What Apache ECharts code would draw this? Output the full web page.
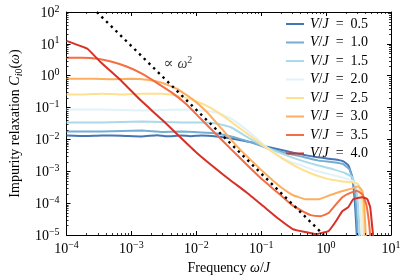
<!DOCTYPE html>
<html><head><meta charset="utf-8">
<script src="https://cdn.jsdelivr.net/npm/echarts@6/dist/echarts.min.js"></script>
<style>html,body{margin:0;padding:0;background:#fff}#c{width:415px;height:280px}</style>
</head><body><div id="c"></div>
<script>
// ---------- data ----------
const vjLabels = ['0.5', '1.0', '1.5', '2.0', '2.5', '3.0', '3.5', '4.0'];
const vjColors = ['#4575b4', '#74add1', '#abd9e9', '#e0f3f8', '#fee090', '#fdae61', '#f46d43', '#d73027'];

const xTickExponents = [-4, -3, -2, -1, 0, 1];
const yTickExponents = [-5, -4, -3, -2, -1, 0, 1, 2];

// [omega/J, C_i0(omega)]
const vj05 = [[1e-4,0.0133],[2.0e-4,0.0128],[3.5e-4,0.0133],[7.0e-4,0.0130],[1.45e-3,0.0124],[2.5e-3,0.0135],[3.5e-3,0.0125],[5.9e-3,0.0133],[8.0e-3,0.0126],[1.2e-2,0.0133],[2.04e-2,0.0124],[3.45e-2,0.0107],[7.0e-2,0.0081],[0.118,0.006],[0.223,0.0045],[0.406,0.0034],[0.74,0.00274],[1.30,0.00237],[1.85,0.00205],[2.20,0.00154],[2.54,0.00065],[2.82,6.5e-5],[3.02,5e-6]];
const vj10 = [[1e-4,0.0178],[3.5e-4,0.0178],[1.45e-3,0.0191],[3.0e-3,0.0172],[5.9e-3,0.0178],[1.2e-2,0.0166],[2.04e-2,0.0154],[3.45e-2,0.0124],[7.0e-2,0.0081],[0.118,0.0056],[0.223,0.0039],[0.406,0.00294],[0.74,0.0022],[1.30,0.00191],[1.85,0.00166],[2.28,0.00115],[2.72,3.9e-4],[2.92,6.5e-5],[3.13,5e-6]];
const vj15 = [[1e-4,0.034],[3.5e-4,0.034],[1.45e-3,0.0365],[5.9e-3,0.034],[1.2e-2,0.034],[2.04e-2,0.0316],[3.45e-2,0.0237],[7.0e-2,0.01],[0.118,0.0056],[0.223,0.0034],[0.406,0.0022],[0.74,0.00154],[1.30,0.00115],[1.98,8.7e-4],[2.54,6.5e-4],[2.92,2.7e-4],[3.13,6.5e-5],[3.36,5e-6]];
const vj20 = [[1e-4,0.0865],[3.5e-4,0.0865],[1.45e-3,0.0806],[5.9e-3,0.0865],[1.2e-2,0.0806],[2.04e-2,0.0698],[3.45e-2,0.0453],[7.0e-2,0.0154],[0.118,0.006],[0.223,0.00237],[0.406,0.00154],[0.74,0.001],[1.30,7.5e-4],[1.98,6.0e-4],[2.62,4.9e-4],[3.13,2.7e-4],[3.36,9.3e-5],[3.61,5e-6]];
const vj25 = [[1e-4,0.255],[1.76e-4,0.255],[3.5e-4,0.274],[7.2e-4,0.255],[1.45e-3,0.274],[2.94e-3,0.274],[5.0e-3,0.237],[8.5e-3,0.178],[1.43e-2,0.115],[2.43e-2,0.060],[4.1e-2,0.0274],[7.0e-2,0.0124],[0.118,0.0056],[0.20,0.00274],[0.34,0.00143],[0.577,8.7e-4],[0.98,6.0e-4],[1.66,4.9e-4],[2.54,4.5e-4],[3.13,3.9e-4],[3.48,1.9e-4],[3.73,4.5e-5],[3.86,5e-6]];
const vj30 = [[1e-4,0.805],[2.5e-4,0.805],[5.0e-4,0.78],[1.02e-3,0.805],[1.73e-3,0.75],[2.94e-3,0.60],[5.0e-3,0.39],[8.5e-3,0.191],[1.43e-2,0.075],[2.43e-2,0.0221],[4.1e-2,0.0065],[7.0e-2,0.0022],[0.118,8.1e-4],[0.20,3.2e-4],[0.306,1.8e-4],[0.484,1.33e-4],[0.766,1.33e-4],[1.17,1.8e-4],[1.78,2.4e-4],[2.54,2.9e-4],[3.13,3.4e-4],[3.61,2.4e-4],[3.86,9.3e-5],[4.15,5e-6]];
const vj35 = [[1e-4,3.66],[1.76e-4,3.66],[3.0e-4,3.4],[5.0e-4,2.74],[8.6e-4,1.91],[1.45e-3,1.16],[2.46e-3,0.60],[4.2e-3,0.294],[7.1e-3,0.124],[1.2e-2,0.042],[2.04e-2,0.0143],[3.45e-2,0.00487],[5.9e-2,0.00166],[9.9e-2,6.0e-4],[0.168,2.4e-4],[0.286,9.3e-5],[0.406,6.0e-5],[0.577,4.2e-5],[0.82,3.9e-5],[1.09,4.9e-5],[1.39,8.7e-5],[1.78,1.54e-4],[2.36,2.1e-4],[3.02,2.4e-4],[3.61,1.9e-4],[4.15,9.3e-5],[4.61,2.2e-5],[4.94,4e-6]];
const vj40 = [[1e-4,12.4],[1.47e-4,9.3],[2.1e-4,7.0],[3.3e-4,2.74],[7.2e-4,0.65],[1.35e-3,0.178],[2.94e-3,0.042],[1.0e-2,0.0039],[3.2e-2,5.6e-4],[5.9e-2,2.2e-4],[0.107,8.1e-5],[0.187,3.16e-5],[0.306,1.54e-5],[0.484,1.24e-5],[0.689,1.07e-5],[1.09,1.33e-5],[1.39,2.55e-5],[1.78,5.6e-5],[2.20,7.5e-5],[2.62,1.33e-4],[3.61,1.54e-4],[4.3,1.33e-4],[4.78,7.5e-5],[5.12,1.9e-5],[5.5,5e-6]];

const seriesData = [vj05, vj10, vj15, vj20, vj25, vj30, vj35, vj40];

// omega^-2 guide line and its label
const guideLine = [[2.92e-4, 100], [0.922, 1e-5]];
const guideLabelAt = [5.2e-3, 2.4];

// ---------- chart ----------
const FONT = '"Liberation Serif", "DejaVu Serif", serif';
const chart = echarts.init(document.getElementById('c'), null, {renderer: 'canvas'});

function tickFmt(v) {
  const e = Math.round(Math.log10(v));
  return '{b|10}{e|' + (e < 0 ? '\u2212' + (-e) : String(e)) + '}';
}
const tickRich = {
  b: {fontFamily: FONT, fontSize: 14, color: '#000', lineHeight: 16, verticalAlign: 'bottom'},
  e: {fontFamily: FONT, fontSize: 10, color: '#000', verticalAlign: 'top'}
};

// minor tick positions (2..9 per decade)
const xMinor = [], yMinor = [];
xTickExponents.slice(0, -1).forEach(e => { for (let m = 2; m <= 9; m++) xMinor.push(m * Math.pow(10, e)); });
yTickExponents.slice(0, -1).forEach(e => { for (let m = 2; m <= 9; m++) yMinor.push(m * Math.pow(10, e)); });

const axisLineStyle = {show: true, lineStyle: {color: '#000', width: 1}};
const majorTick = {show: true, inside: true, length: 4, lineStyle: {color: '#000', width: 1}};

const series = seriesData.map((d, i) => ({
  name: 'V/J = ' + vjLabels[i],
  type: 'line',
  data: d,
  showSymbol: false,
  symbol: 'none',
  smooth: 0.12,
  clip: true,
  lineStyle: {color: vjColors[i], width: 2},
  itemStyle: {color: vjColors[i]},
  z: 2 + i
}));

series.push({
  name: 'guide', type: 'line', data: guideLine, showSymbol: false, symbol: 'none',
  lineStyle: {color: '#000', width: 2.4, type: [2.4, 4.2]}, z: 20, clip: true
});
series.push({
  name: 'guideLabel', type: 'scatter', data: [guideLabelAt], symbolSize: 0, z: 21,
  label: {
    show: true, position: 'inside',
    formatter: '{t|\u221d }{i|\u03c9}{e|2}',
    rich: {
      t: {fontFamily: FONT, fontSize: 15, color: '#000', lineHeight: 16, verticalAlign: 'bottom'},
      i: {fontFamily: FONT, fontSize: 14, fontStyle: 'italic', color: '#000', lineHeight: 16, verticalAlign: 'bottom'},
      e: {fontFamily: FONT, fontSize: 10, color: '#000', verticalAlign: 'top'}
    }
  }
});
series.push({
  name: 'minorTicks', type: 'custom', data: [[1, 1]], silent: true, z: 30, clip: false,
  renderItem: function (params, api) {
    const cs = params.coordSys;
    const ch = [];
    const st = {stroke: '#000', lineWidth: 0.8};
    xMinor.forEach(v => {
      const x = Math.round(api.coord([v, 1])[0]) + 0.5;
      ch.push({type: 'line', shape: {x1: x, y1: cs.y + cs.height, x2: x, y2: cs.y + cs.height - 2}, style: st});
      ch.push({type: 'line', shape: {x1: x, y1: cs.y, x2: x, y2: cs.y + 2}, style: st});
    });
    yMinor.forEach(v => {
      const y = Math.round(api.coord([1, v])[1]) + 0.5;
      ch.push({type: 'line', shape: {x1: cs.x, y1: y, x2: cs.x + 2, y2: y}, style: st});
      ch.push({type: 'line', shape: {x1: cs.x + cs.width, y1: y, x2: cs.x + cs.width - 2, y2: y}, style: st});
    });
    return {type: 'group', children: ch};
  }
});

const option = {
  animation: false,
  backgroundColor: '#fff',
  grid: {left: 64, right: 24, top: 12, bottom: 44, containLabel: false},
  legend: {
    data: vjLabels.map(l => 'V/J = ' + l),
    orient: 'vertical', left: 286, top: 17, padding: 0,
    itemWidth: 18, itemHeight: 2, itemGap: 4.5, icon: 'rect',
    formatter: function (name) {
      const v = name.split('= ')[1];
      return '{i|V}{t|/}{i|J}{t|\u2002=\u2002' + v + '}';
    },
    textStyle: {
      padding: [0, 0, 0, 1],
      rich: {
        i: {fontFamily: FONT, fontSize: 14, fontStyle: 'italic', color: '#000', lineHeight: 10},
        t: {fontFamily: FONT, fontSize: 14, color: '#000', lineHeight: 10}
      }
    }
  },
  xAxis: [{
    type: 'log', logBase: 10, min: 1e-4, max: 10, interval: 1, position: 'bottom',
    axisLine: axisLineStyle, axisTick: majorTick, splitLine: {show: false},
    axisLabel: {formatter: tickFmt, rich: tickRich, margin: 5, showMinLabel: true, showMaxLabel: true},
    name: '{t|Frequency }{i|\u03c9}{t|/}{i|J}', nameLocation: 'middle', nameGap: 26,
    nameTextStyle: {rich: {
      t: {fontFamily: FONT, fontSize: 14, color: '#000'},
      i: {fontFamily: FONT, fontSize: 14, fontStyle: 'italic', color: '#000'}
    }}
  }, {
    type: 'log', logBase: 10, min: 1e-4, max: 10, interval: 1, position: 'top',
    axisLine: axisLineStyle, axisTick: majorTick, splitLine: {show: false}, axisLabel: {show: false}
  }],
  yAxis: [{
    type: 'log', logBase: 10, min: 1e-5, max: 100, interval: 1, position: 'left',
    axisLine: axisLineStyle, axisTick: majorTick, splitLine: {show: false},
    axisLabel: {formatter: tickFmt, rich: tickRich, margin: 7, showMinLabel: true, showMaxLabel: true},
    name: '{t|Impurity relaxation }{i|C}{si|i}{s|0}{t|(}{i|\u03c9}{t|)}', nameLocation: 'middle', nameGap: 42, nameRotate: 90,
    nameTextStyle: {rich: {
      t: {fontFamily: FONT, fontSize: 14, color: '#000', lineHeight: 16, verticalAlign: 'top'},
      i: {fontFamily: FONT, fontSize: 14, fontStyle: 'italic', color: '#000', lineHeight: 16, verticalAlign: 'top'},
      si: {fontFamily: FONT, fontSize: 10, fontStyle: 'italic', color: '#000', verticalAlign: 'bottom'},
      s: {fontFamily: FONT, fontSize: 10, color: '#000', verticalAlign: 'bottom'}
    }}
  }, {
    type: 'log', logBase: 10, min: 1e-5, max: 100, interval: 1, position: 'right',
    axisLine: axisLineStyle, axisTick: majorTick, splitLine: {show: false}, axisLabel: {show: false}
  }],
  series: series
};
chart.setOption(option);
</script></body></html>
